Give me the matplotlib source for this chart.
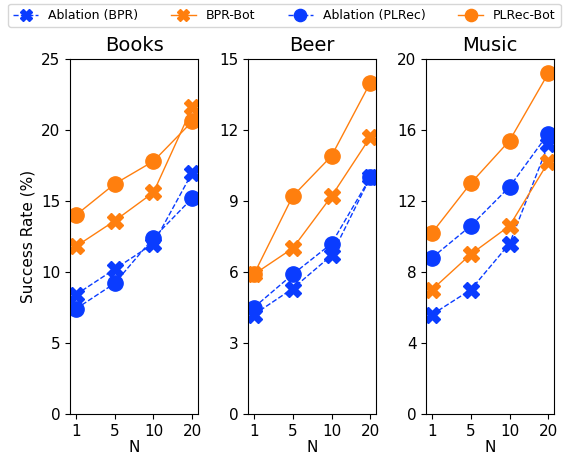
import numpy as np
import matplotlib.pyplot as plt

n_labels = ["1", "5", "10", "20"]
datasets = ["Books", "Beer", "Music"]
y_max = [25, 15, 20]

# success rate (%) per dataset, one list per method
ablation_bpr = {
    "Books": [8.4, 10.2, 12.0, 17.0],
    "Beer": [4.2, 5.3, 6.7, 10.0],
    "Music": [5.6, 7.0, 9.6, 15.2],
}
bpr_bot = {
    "Books": [11.8, 13.6, 15.6, 21.6],
    "Beer": [5.9, 7.0, 9.2, 11.7],
    "Music": [7.0, 9.0, 10.6, 14.2],
}
ablation_plrec = {
    "Books": [7.4, 9.2, 12.4, 15.2],
    "Beer": [4.5, 5.9, 7.2, 10.0],
    "Music": [8.8, 10.6, 12.8, 15.8],
}
plrec_bot = {
    "Books": [14.0, 16.2, 17.8, 20.6],
    "Beer": [5.9, 9.2, 10.9, 14.0],
    "Music": [10.2, 13.0, 15.4, 19.2],
}

blue = "#0a3cff"
orange = "#ff7f0e"

fig, axes = plt.subplots(1, 3, figsize=(5.69, 4.57), dpi=100)
fig.subplots_adjust(left=0.123, right=0.974, bottom=0.094, top=0.871, wspace=0.39)

x = np.arange(len(n_labels))
for ax, name, ym in zip(axes, datasets, y_max):
    ax.plot(x, ablation_bpr[name], color=blue, ls="--", lw=1, marker="X", ms=11, label="Ablation (BPR)")
    ax.plot(x, bpr_bot[name], color=orange, ls="-", lw=1, marker="X", ms=11, label="BPR-Bot")
    ax.plot(x, ablation_plrec[name], color=blue, ls="--", lw=1, marker="o", ms=11, label="Ablation (PLRec)")
    ax.plot(x, plrec_bot[name], color=orange, ls="-", lw=1, marker="o", ms=11, label="PLRec-Bot")
    ax.set_ylim(0, ym)
    ax.set_yticks(np.linspace(0, ym, 6))
    ax.set_xticks(x)
    ax.set_xticklabels(n_labels)
    ax.tick_params(labelsize=11)
    ax.set_title(name, fontsize=14)
    ax.set_xlabel("N", fontsize=11, labelpad=1)

axes[0].set_ylabel("Success Rate (%)", fontsize=11)

handles, labels = axes[0].get_legend_handles_labels()
fig.legend(handles, labels, loc="upper center", ncol=4, fontsize=9,
           bbox_to_anchor=(0.5, 1.005), markerscale=0.8, columnspacing=2.6)

plt.savefig("out.png")
